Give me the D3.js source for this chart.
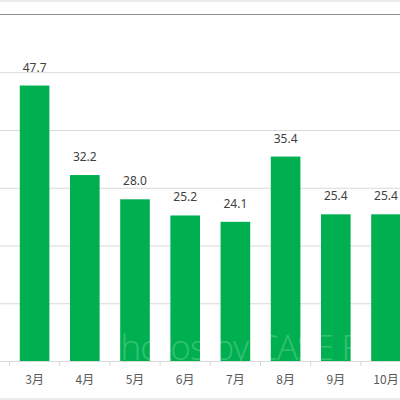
<!DOCTYPE html>
<html>
<head>
<meta charset="utf-8">
<script src="https://cdn.jsdelivr.net/npm/d3@7"></script>
<style>
  html, body { margin: 0; padding: 0; background: #fff; }
  svg { display: block; }
</style>
</head>
<body>
<div id="chart"></div>
<script>
// data
const months = ["3月", "4月", "5月", "6月", "7月", "8月", "9月", "10月"]
const values = [47.7, 32.2, 28.0, 25.2, 24.1, 35.4, 25.4, 25.4]
const gridTicks = [0, 10, 20, 30, 40, 50]

const width = 400
const height = 400
const baseline = 361

const svg = d3.select("#chart")
    .append("svg")
    .attr("width", width)
    .attr("height", height)

// band width of ~50px, chart runs on past the right edge
const xScale = d3.scaleBand()
    .domain(months)
    .range([9.5, 9.5 + months.length * 50.2])
    .paddingInner(0.41)
    .paddingOuter(0.205)

const yScale = d3.scaleLinear()
    .domain([0, 60])
    .range([baseline, 14.5])

// frame lines
svg.append("line")
    .attr("x1", 0).attr("x2", width)
    .attr("y1", 1).attr("y2", 1)
    .attr("stroke", "#d9d9d9")
svg.append("line")
    .attr("x1", 0).attr("x2", width)
    .attr("y1", yScale(60)).attr("y2", yScale(60))
    .attr("stroke", "#8c8c8c")
    .attr("stroke-width", 1.2)
svg.append("line")
    .attr("x1", 0).attr("x2", width)
    .attr("y1", 399).attr("y2", 399)
    .attr("stroke", "#d9d9d9")

// gridlines
const grid = svg.append("g")
    .call(d3.axisLeft(yScale).tickValues(gridTicks).tickSize(-width).tickFormat(""))
grid.select(".domain").remove()
grid.selectAll(".tick line").attr("stroke", "#d9d9d9")

// bars
svg.selectAll("rect.bar")
    .data(values)
    .enter()
    .append("rect")
    .attr("class", "bar")
    .attr("x", (d, i) => xScale(months[i]))
    .attr("y", d => yScale(d))
    .attr("width", xScale.bandwidth())
    .attr("height", d => baseline - yScale(d))
    .attr("fill", "#00b050")

// value labels
svg.selectAll("text.val")
    .data(values)
    .enter()
    .append("text")
    .attr("class", "val")
    .attr("x", (d, i) => xScale(months[i]) + xScale.bandwidth() / 2)
    .attr("y", d => yScale(d) - 14)
    .attr("text-anchor", "middle")
    .attr("font-family", "'Noto Sans', sans-serif")
    .attr("font-size", 12)
    .attr("fill", "#404040")
    .text(d => d.toFixed(1))

// faint watermark over the bars
svg.append("text")
    .attr("x", 101)
    .attr("y", 360)
    .attr("font-family", "'Open Sans', sans-serif")
    .attr("font-weight", 300)
    .attr("font-size", 35)
    .attr("letter-spacing", -1)
    .attr("fill", "#ffffff")
    .attr("opacity", 0.2)
    .text("Photos by CASE FI")

// x axis with ticks at band edges
const xAxis = svg.append("g")
    .attr("transform", `translate(0,${baseline})`)
    .call(d3.axisBottom(xScale).tickSize(0).tickPadding(14))
xAxis.select(".domain").attr("stroke", "#d9d9d9")
xAxis.selectAll(".tick text")
    .attr("font-family", "'Noto Sans CJK JP', sans-serif")
    .attr("font-size", 12)
    .attr("fill", "#595959")

const step = xScale.step()
svg.append("g")
    .selectAll("line")
    .data(months)
    .enter()
    .append("line")
    .attr("x1", d => xScale(d) - step * 0.205)
    .attr("x2", d => xScale(d) - step * 0.205)
    .attr("y1", baseline)
    .attr("y2", baseline + 5)
    .attr("stroke", "#d9d9d9")
</script>
</body>
</html>
